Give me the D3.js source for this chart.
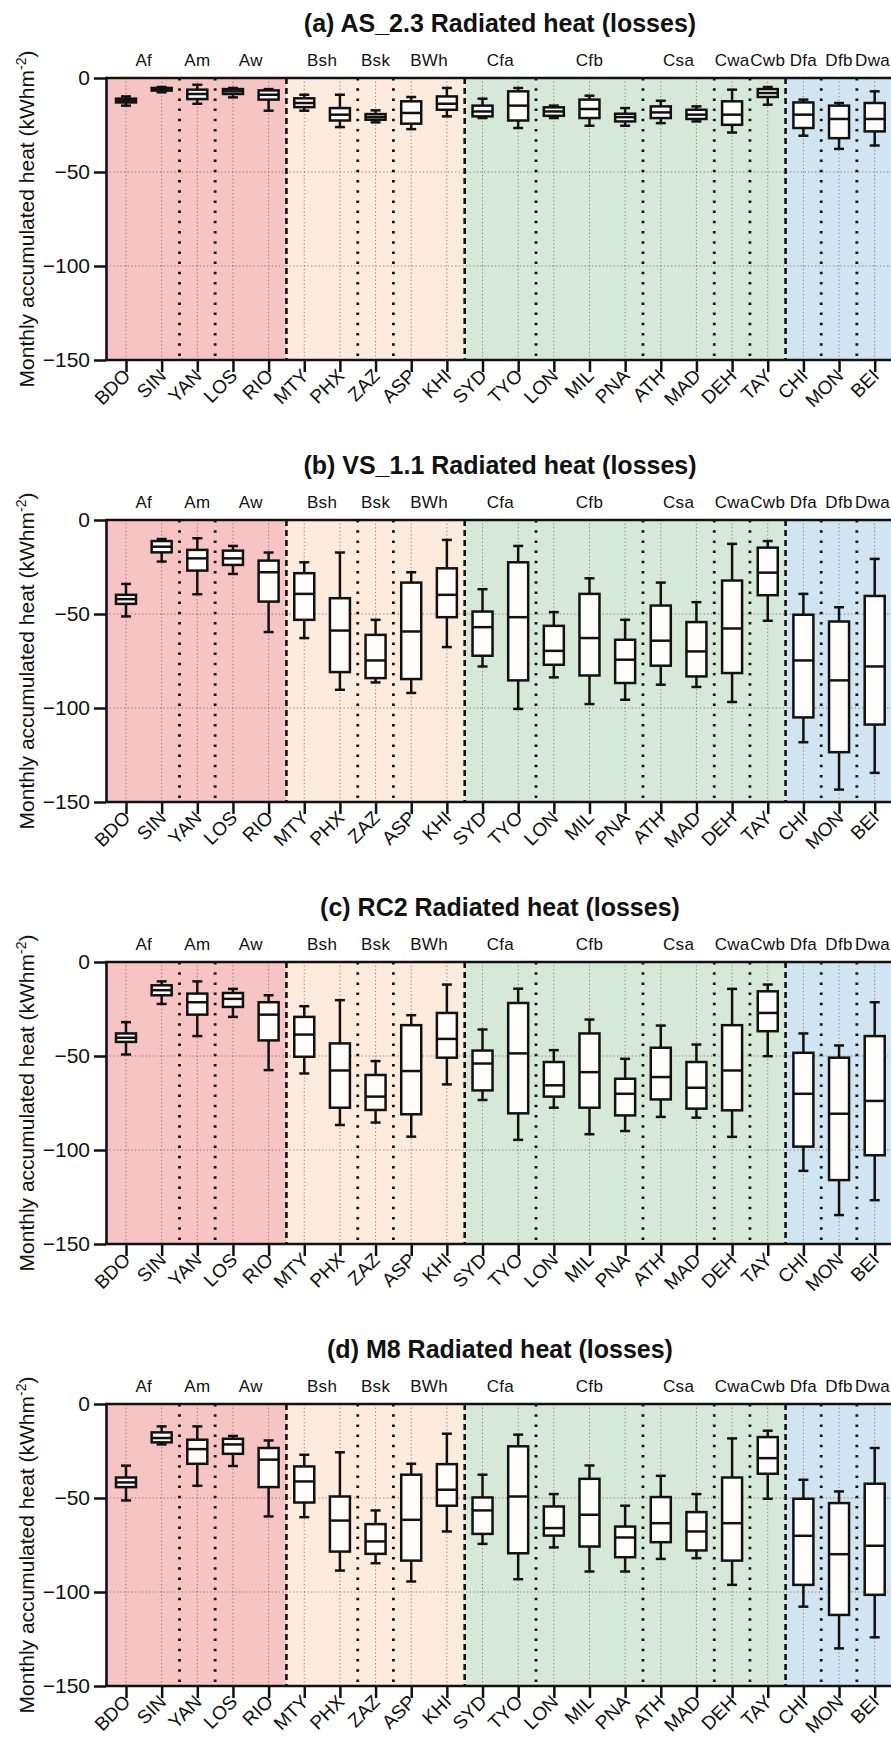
<!DOCTYPE html>
<html>
<head>
<meta charset="utf-8">
<script src="https://cdn.jsdelivr.net/npm/d3@7"></script>
<style>
body { margin: 0; background: #fff; }
text { font-family: "Liberation Sans", Arial, sans-serif; fill: #111; }
</style>
</head>
<body>
<svg id="box-svg"></svg>
<script>
// categories
const cities = ["BDO","SIN","YAN","LOS","RIO","MTY","PHX","ZAZ","ASP","KHI","SYD",
                "TYO","LON","MIL","PNA","ATH","MAD","DEH","TAY","CHI","MON","BEI"];
const climates = ["Af","Af","Am","Aw","Aw","Bsh","Bsh","Bsk","BWh","BWh","Cfa",
                  "Cfa","Cfb","Cfb","Cfb","Csa","Csa","Cwa","Cwb","Dfa","Dfb","Dwa"];
const panelTitles = [
    "(a) AS_2.3 Radiated heat (losses)",
    "(b) VS_1.1 Radiated heat (losses)",
    "(c) RC2 Radiated heat (losses)",
    "(d) M8 Radiated heat (losses)"
];
const yTicks = [0, -50, -100, -150];

// [min, q1, median, q3, max] per city
const boxAS23 = [
    [-14.7,-13,-12,-11,-9.8],[-7.6,-6.7,-6,-5.3,-4.8],[-13.7,-11.2,-8.5,-6.2,-3.6],
    [-10.3,-8.5,-7.1,-5.9,-5.3],[-17.4,-11.5,-8.9,-6.6,-5.9],[-17.4,-15.5,-13.3,-10.8,-8.9],
    [-26.1,-22.6,-19.5,-16,-8.9],[-23.6,-22.2,-20.8,-19.2,-17.2],[-27.2,-24.3,-18.6,-12.4,-10.1],
    [-20.4,-16.9,-13.7,-9.8,-5.3],[-21.3,-20.4,-17.8,-14.7,-11],[-26.6,-22.6,-14.7,-7.1,-5.3],
    [-21.3,-20.1,-17.8,-15.6,-14.7],[-25.4,-21.3,-16.5,-11.5,-9.4],[-25.4,-23.1,-20.8,-19,-16],
    [-24,-21.3,-18.3,-15.1,-12.1],[-23.1,-21.8,-19.5,-16.9,-15.1],[-29,-24.9,-19.5,-12.4,-6.2],
    [-14.2,-10.1,-8,-5.9,-4.8],[-30.7,-26.6,-19.5,-13,-11.5],[-37.7,-32,-21.8,-14.7,-13.3],
    [-35.9,-28.4,-21.8,-13.3,-7.1]
];
const boxVS11 = [
    [-51.3,-44.6,-42.1,-39.8,-34],[-22.1,-17.2,-14.2,-11.2,-10.1],[-39.5,-26.9,-20.4,-15.9,-9.7],
    [-28.7,-23.9,-20.4,-16.3,-13.8],[-59.6,-43.4,-27.8,-21.6,-17.3],[-62.8,-53.1,-39.3,-28.3,-22.5],
    [-90.3,-80.9,-58.8,-41.6,-17.3],[-86.4,-84.1,-74.7,-61.1,-53.1],[-92,-84.6,-59.3,-33.3,-27.8],
    [-67.6,-51.7,-39.8,-25.7,-10.6],[-77.9,-72.2,-57,-48.7,-36.8],[-100.5,-85.3,-51.7,-22.5,-13.8],
    [-83.7,-77,-69.6,-56.3,-49],[-97.9,-82.7,-62.8,-39.3,-31],[-95.6,-86.7,-74.3,-63.7,-53.1],
    [-87.6,-77.5,-64.2,-45.5,-33.3],[-88.8,-83.2,-69.9,-54.3,-43.7],[-96.8,-81.4,-57.7,-32.2,-12.7],
    [-53.6,-40,-28,-14.7,-11.2],[-118.2,-105,-74.7,-50.4,-39.3],[-143.4,-123.5,-85.3,-54,-46.4],
    [-134.5,-108.8,-77.9,-40.4,-20.7]
];
const boxRC2 = [
    [-49.2,-42.5,-40.3,-38,-32],[-22.3,-17.7,-15,-12.4,-10.3],[-39.4,-28,-21.4,-16.8,-10.3],
    [-29.2,-23.9,-19.6,-16.5,-14.3],[-57.5,-41.7,-28,-21.4,-17.7],[-59.3,-50.4,-38.6,-29.2,-23.5],
    [-86.7,-77.5,-57.7,-43.3,-20.3],[-85.4,-78.7,-71.6,-60.1,-52.7],[-92.9,-81,-58,-33.6,-28.3],
    [-65.1,-50.9,-40.9,-27.1,-12],[-73.4,-68.3,-54,-47.1,-35.9],[-94.6,-80.5,-48.6,-21.8,-14.2],
    [-77.5,-71.6,-65.6,-53.2,-46.9],[-91.6,-77.5,-58.6,-38,-30.6],[-89.9,-81.6,-70.1,-62.1,-51.5],
    [-82.4,-73.1,-61.2,-45.6,-33.8],[-82.8,-78,-66.9,-53.2,-43.9],[-93,-78.9,-57.7,-33.6,-14.3],
    [-50.1,-36.8,-27.1,-15.6,-12],[-111.1,-98.2,-70.1,-48.3,-38],[-134.6,-116,-80.7,-50.9,-44.4],
    [-126.7,-102.8,-73.9,-39.4,-21.4]
];
const boxM8 = [
    [-51.3,-44.2,-41.7,-39.1,-32.8],[-21.5,-20.4,-18.1,-15.1,-11.9],[-43.5,-31.8,-24,-19,-11.9],
    [-33,-26.5,-21.5,-18.5,-17],[-59.8,-44.2,-29.6,-23.4,-19.4],[-60.2,-52.4,-41.2,-33.2,-27],
    [-88.6,-78.5,-62,-49.2,-25.7],[-84.7,-79.7,-73.1,-63.9,-56.6],[-94.4,-83.3,-61.6,-37.6,-31.8],
    [-67.8,-54.1,-45.6,-32,-15.8],[-74.4,-69.1,-56.6,-49.7,-37.6],[-93.2,-79.4,-49.2,-22.5,-16.3],
    [-76.3,-70,-66,-54.5,-47.9],[-89.1,-75.8,-58.9,-39.8,-32.7],[-89.1,-81.5,-71,-65.2,-54.1],
    [-82.4,-73.5,-63.4,-49.5,-38.2],[-82,-77.9,-67.8,-57.5,-47.9],[-96.2,-83.3,-63.4,-39.1,-18.3],
    [-50.4,-37.1,-28.8,-17.6,-14.2],[-107.8,-96.2,-70.1,-50.4,-40.3],[-130,-112.2,-79.9,-52.7,-46.5],
    [-124.1,-101.5,-75.4,-42.4,-23.4]
];
const panelBoxes = [boxAS23, boxVS11, boxRC2, boxM8];

const zoneColors = { A: "#f7c4c4", B: "#fdebdd", C: "#d6e9d8", D: "#d1e4f1" };

const width = 891;
const height = 1752;
const plotLeft = 106, plotRight = 894;
const plotHeight = 282, firstTop = 78, panelStep = 442;

const svg = d3.select("#box-svg").attr("width", width).attr("height", height);

const xScale = d3.scalePoint()
    .domain(cities)
    .range([126, 874.7]);

// separators between climate groups
const separators = [];
for (let i = 1; i < cities.length; i++) {
    if (climates[i] !== climates[i - 1]) {
        separators.push({
            x: (xScale(cities[i - 1]) + xScale(cities[i])) / 2,
            major: climates[i][0] !== climates[i - 1][0]
        });
    }
}

// zone extents (A, B, C, D)
const zones = [];
cities.forEach((c, i) => {
    const z = climates[i][0];
    if (zones.length === 0 || zones[zones.length - 1].zone !== z) {
        const start = i === 0 ? plotLeft : (xScale(cities[i - 1]) + xScale(c)) / 2;
        if (zones.length) zones[zones.length - 1].end = start;
        zones.push({ zone: z, start: start, end: plotRight });
    }
});

// climate label positions (mean of member cities)
const climateLabels = d3.groups(cities.map((c, i) => ({ c, k: climates[i] })), d => d.k)
    .map(([k, v]) => ({ k, x: d3.mean(v, d => xScale(d.c)) }));

function drawPanel(p)
{
    const top = firstTop + p * panelStep;
    const bottom = top + plotHeight;
    const yScale = d3.scaleLinear().domain([-150, 0]).range([bottom, top]);
    const g = svg.append("g");
    const data = panelBoxes[p];

    g.selectAll(".zone")
        .data(zones)
        .enter().append("rect")
        .attr("x", d => d.start)
        .attr("y", top)
        .attr("width", d => d.end - d.start)
        .attr("height", plotHeight)
        .attr("fill", d => zoneColors[d.zone]);

    // horizontal grid
    g.selectAll(".hgrid")
        .data([-50, -100])
        .enter().append("line")
        .attr("x1", plotLeft).attr("x2", plotRight)
        .attr("y1", d => yScale(d)).attr("y2", d => yScale(d))
        .attr("stroke", "#6b4a3a")
        .attr("stroke-width", 1)
        .attr("stroke-dasharray", "1.2 2.4")
        .attr("opacity", 0.7);

    // vertical grid per city
    g.selectAll(".vgrid")
        .data(cities)
        .enter().append("line")
        .attr("x1", d => xScale(d)).attr("x2", d => xScale(d))
        .attr("y1", top).attr("y2", bottom)
        .attr("stroke", "#6b4a3a")
        .attr("stroke-width", 1)
        .attr("stroke-dasharray", "1.2 2.4")
        .attr("opacity", 0.7);

    // climate separators
    g.selectAll(".sep")
        .data(separators)
        .enter().append("line")
        .attr("x1", d => d.x).attr("x2", d => d.x)
        .attr("y1", top).attr("y2", bottom)
        .attr("stroke", "#111")
        .attr("stroke-width", d => d.major ? 2.6 : 2.8)
        .attr("stroke-dasharray", d => d.major ? "6 4" : "2.5 7.7");

    // boxes
    const boxW = 20, capW = 10;
    const boxes = g.selectAll(".box")
        .data(data)
        .enter().append("g")
        .attr("transform", (d, i) => `translate(${xScale(cities[i])},0)`);

    boxes.append("line")
        .attr("x1", 0).attr("x2", 0)
        .attr("y1", d => yScale(d[0])).attr("y2", d => yScale(d[4]))
        .attr("stroke", "#111").attr("stroke-width", 2.5);

    boxes.append("rect")
        .attr("x", -boxW / 2)
        .attr("y", d => yScale(d[3]))
        .attr("width", boxW)
        .attr("height", d => yScale(d[1]) - yScale(d[3]))
        .attr("fill", "#fffdfb")
        .attr("stroke", "#111").attr("stroke-width", 2.5);

    boxes.append("line")
        .attr("x1", -boxW / 2).attr("x2", boxW / 2)
        .attr("y1", d => yScale(d[2])).attr("y2", d => yScale(d[2]))
        .attr("stroke", "#111").attr("stroke-width", 2.5);

    [0, 4].forEach(k => {
        boxes.append("line")
            .attr("x1", -capW / 2).attr("x2", capW / 2)
            .attr("y1", d => yScale(d[k])).attr("y2", d => yScale(d[k]))
            .attr("stroke", "#111").attr("stroke-width", 2.5);
    });

    // frame lines (top and bottom)
    g.append("line")
        .attr("x1", plotLeft - 1).attr("x2", plotRight)
        .attr("y1", top).attr("y2", top)
        .attr("stroke", "#111").attr("stroke-width", 2.6);
    g.append("line")
        .attr("x1", plotLeft - 1).attr("x2", plotRight)
        .attr("y1", bottom).attr("y2", bottom)
        .attr("stroke", "#111").attr("stroke-width", 2.6);

    // y axis
    const yAxis = g.append("g")
        .attr("transform", `translate(${plotLeft},0)`)
        .call(d3.axisLeft(yScale).tickValues(yTicks).tickSize(12).tickSizeOuter(0).tickPadding(4));
    yAxis.select(".domain").attr("stroke", "#111").attr("stroke-width", 2.6);
    yAxis.selectAll(".tick line").attr("stroke", "#111").attr("stroke-width", 2.5);
    yAxis.selectAll(".tick text")
        .style("font-size", "21px")
        .style("font-family", "'Liberation Sans', Arial, sans-serif")
        .attr("fill", "#111");

    // x axis ticks, labels rotated -45
    const xAxis = g.append("g")
        .attr("transform", `translate(0,${bottom})`)
        .call(d3.axisBottom(xScale).tickSize(12).tickSizeOuter(0));
    xAxis.select(".domain").remove();
    xAxis.selectAll(".tick line").attr("stroke", "#111").attr("stroke-width", 2.5);
    xAxis.selectAll(".tick text")
        .attr("x", 0).attr("y", 0).attr("dy", 0)
        .attr("text-anchor", "end")
        .attr("transform", "translate(5,17) rotate(-45)")
        .style("font-size", "19px")
        .style("font-family", "'Liberation Sans', Arial, sans-serif")
        .attr("fill", "#111");

    // climate labels (kept inside the picture at the right edge)
    g.selectAll(".climate")
        .data(climateLabels)
        .enter().append("text")
        .attr("class", "climate")
        .attr("x", d => d.x)
        .attr("y", top - 12)
        .attr("text-anchor", "middle")
        .style("font-size", "17px")
        .style("letter-spacing", "0.3px")
        .text(d => d.k)
        .each(function(d) {
            const w = this.getComputedTextLength();
            if (d.x + w / 2 > width - 1) d3.select(this).attr("x", width - 1 - w / 2);
        });

    // title
    g.append("text")
        .attr("x", (plotLeft + plotRight) / 2)
        .attr("y", top - 46)
        .attr("text-anchor", "middle")
        .style("font-size", "25px")
        .style("font-weight", "bold")
        .text(panelTitles[p]);

    // y label
    const yl = g.append("text")
        .attr("transform", `translate(34,${top + plotHeight / 2}) rotate(-90)`)
        .attr("text-anchor", "middle")
        .style("font-size", "21px");
    yl.append("tspan").text("Monthly accumulated heat (kWhm");
    yl.append("tspan").attr("dy", -8).style("font-size", "14px").text("-2");
    yl.append("tspan").attr("dy", 8).text(")");
}

for (let p = 0; p < 4; p++) drawPanel(p);
</script>
</body>
</html>
